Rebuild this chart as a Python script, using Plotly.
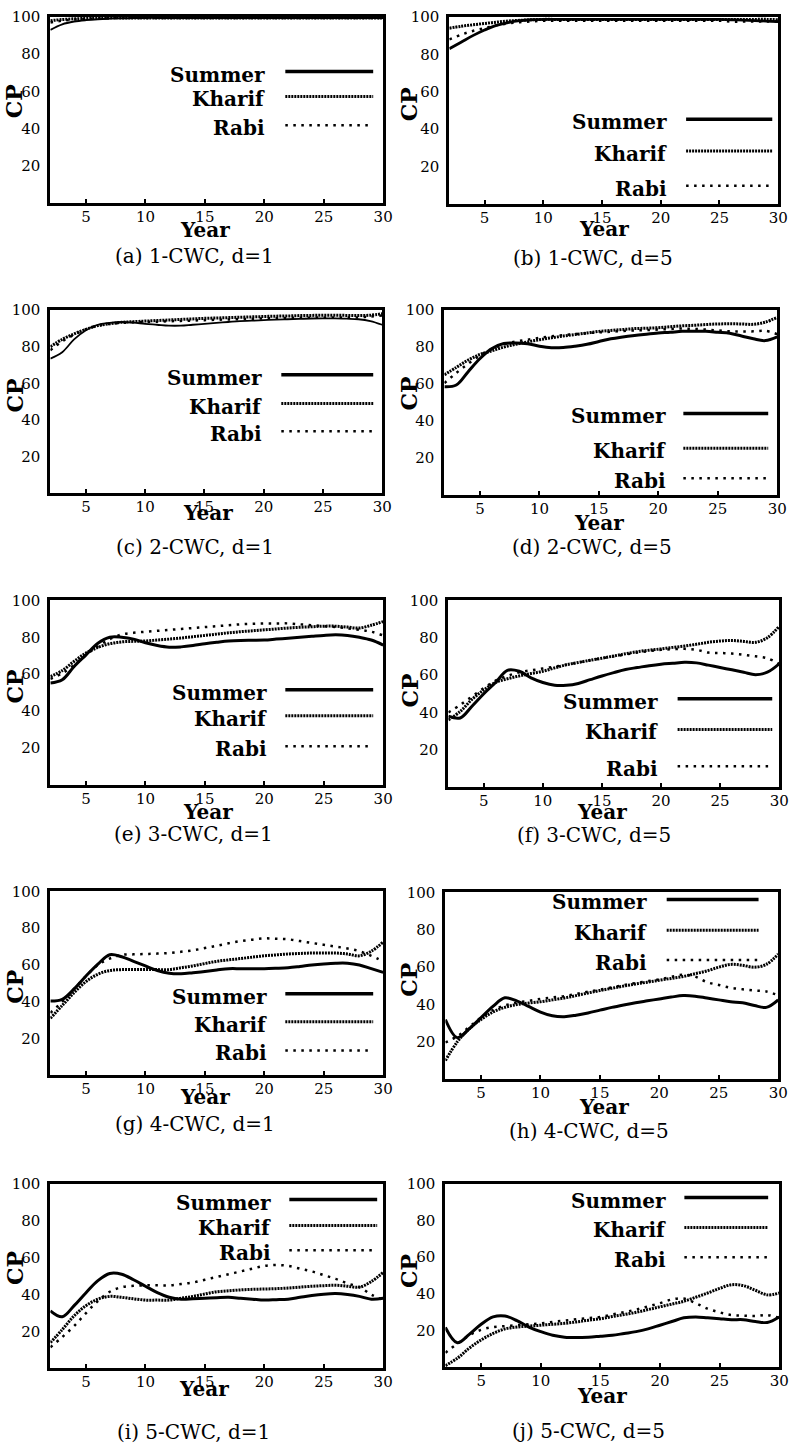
import plotly.graph_objects as go

years = list(range(2, 31))

# ---- data (years 2..30) ----
a_summer = [93, 96, 97.5, 98.3, 98.8, 99.1, 99.3, 99.4] + [99.5] * 21
a_kharif = [98, 98.6, 99, 99.2, 99.4] + [99.5] * 24
a_rabi = [97, 98, 98.6, 99, 99.2, 99.4] + [99.5] * 23

b_summer = [83, 86.5, 90, 93, 95.5, 97, 98, 98.5] + [98.7] * 16 + [98.5, 98.3, 98, 97.8, 97.5]
b_kharif = [94, 95, 95.8, 96.5, 97.2, 97.8, 98.2, 98.5] + [98.7] * 20 + [98.5]
b_rabi = [88, 90.5, 92.5, 94, 95.5, 96.5, 97.2, 97.6, 98] + [98] * 15 + [97.5] * 5

c_summer = [73.5, 77, 84, 89, 92, 93, 93.5, 93.2, 92.5, 92, 91.5, 91.5, 92, 92.5, 93, 93.5, 94, 94.2, 94.5,
            94.8, 95, 95.2, 95.4, 95.5, 95.5, 95.3, 95, 94, 92]
c_kharif = [80, 84, 87, 89.5, 91.5, 92.5, 93.3, 93.7, 94, 94.3, 94.6, 94.9, 95.2, 95.5, 95.7, 95.9, 96.1, 96.3,
            96.5, 96.7, 96.8, 97, 97.1, 97.2, 97.2, 97.1, 97, 97.2, 98]
c_rabi = [78, 83, 86.5, 89.5, 91.5, 92.5, 93, 93.3, 93.5, 93.7, 93.9, 94.1, 94.3, 94.5, 94.7, 94.9, 95.1, 95.3,
          95.5, 95.6, 95.7, 95.8, 95.9, 96, 96, 96, 96, 96.5, 97]

d_summer = [58.6, 59.5, 66.7, 73.8, 79.2, 81.9, 82.2, 81.8, 80.5, 79.7, 79.8, 80.5, 81.5, 83, 84.5, 85.5, 86.3,
            87, 87.6, 88, 88.5, 88.6, 88.5, 88, 87.5, 86, 84.5, 83.5, 85.5]
d_kharif = [65, 69, 73, 76, 78, 80, 81.5, 82.8, 84, 85, 86, 86.8, 87.6, 88.5, 89, 89.5, 90, 90.2, 90.5, 91,
            91.5, 91.8, 92.2, 92.5, 92.6, 92.5, 92.3, 93.5, 96]
d_rabi = [60.5, 66, 71, 75.5, 79, 81.5, 83, 84, 85, 85.8, 86.5, 87, 87.5, 88, 88.3, 88.7, 89, 89.2, 89.5, 89.8,
          90, 89.8, 89.5, 89, 88.5, 88.5, 88.5, 88.8, 87]

e_summer = [55.2, 57, 64.2, 70.5, 76.8, 80, 80, 79, 77, 75.5, 74.6, 74.8, 75.5, 76.5, 77.3, 78, 78.3, 78.4,
            78.5, 79, 79.5, 80, 80.5, 81, 81.3, 81, 80, 78.5, 75.8]
e_kharif = [58.8, 62, 67, 71.5, 74.5, 76.5, 77.5, 77.8, 78, 78.5, 79, 79.6, 80.3, 81, 81.7, 82.4, 83, 83.5, 84,
            84.5, 85, 85.4, 85.7, 86, 86, 85.5, 85, 86.5, 88.5]
e_rabi = [57.5, 60.5, 65, 70.5, 75, 79, 81.5, 82.4, 83, 83.5, 84, 84.5, 85, 85.5, 86, 86.5, 87, 87.3, 87.5,
          87.5, 87.5, 87, 86.5, 86, 85.5, 84.8, 84, 83, 81]

f_summer = [38, 37, 43.3, 50, 56, 62.5, 62, 58.5, 56, 54.5, 54.5, 55.5, 57.5, 59.5, 61.3, 63, 64, 65, 65.8,
            66.3, 66.8, 66.5, 65.3, 64, 62.8, 61.5, 60.2, 61.5, 66]
f_kharif = [36, 40.5, 47, 52, 56, 58, 59.5, 60.8, 62, 63.8, 65.5, 66.7, 67.9, 69, 70.2, 71.4, 72.5, 73.3, 74,
            74.8, 75.5, 76.5, 77.5, 78.2, 78.5, 78, 77.5, 80, 86]
f_rabi = [40, 44, 48.5, 53, 57, 59.5, 61.5, 62.5, 63.5, 64.5, 65.5, 66.7, 67.9, 69, 70, 71, 72, 72.8, 73.5,
          73.8, 74, 73.5, 72, 71.8, 71.5, 70.8, 70, 69, 66]

g_summer = [40.4, 41.3, 47, 54, 60.5, 65.6, 64.5, 62, 59.5, 57, 55.5, 55.2, 55.8, 56.5, 57.3, 58, 58, 58, 58,
            58.2, 58.5, 59.2, 60, 60.6, 61, 61, 60, 58, 56]
g_kharif = [31, 38, 45, 51, 55, 57, 57.5, 57.5, 57.5, 57.5, 57.5, 58.5, 59.5, 60.8, 62, 62.8, 63.5, 64.3, 65,
            65.5, 66, 66.3, 66.5, 66.5, 66.5, 66, 65, 67.5, 72.5]
g_rabi = [34, 40, 47, 54, 60, 63.5, 65.5, 65.8, 66, 66.2, 66.5, 67.2, 68, 69.2, 70.5, 71.8, 73, 73.8, 74.5,
          74.3, 74, 73, 72, 71, 70, 69, 67.5, 65, 62]

h_summer = [32, 22.3, 27, 33, 39, 43.6, 42, 39, 36, 34, 33.5, 34.3, 35.5, 37, 38.5, 39.8, 41, 42, 43, 44, 44.8,
            44.5, 43.5, 42.5, 41.5, 41, 39.5, 38.5, 42.5]
h_kharif = [10, 20, 27, 32, 36, 38.5, 40, 40.8, 41.5, 42.5, 43.5, 44.8, 46.2, 47.5, 48.7, 49.9, 51, 52, 53, 54,
            55, 56.5, 58, 60, 61.5, 61, 60, 61.5, 67]
h_rabi = [19.7, 23, 28, 33, 37, 39.5, 41, 42, 43, 43.8, 44.5, 45.7, 46.9, 48, 49.2, 50.4, 51.5, 52.5, 53.5,
          54.8, 56, 55, 52, 50.5, 49, 48.2, 47.5, 47, 45]

i_summer = [31.2, 28, 34, 41, 47.5, 51.4, 51, 48, 44.5, 41, 38.5, 37.5, 37.7, 38, 38.3, 38.5, 38, 37.5, 37,
            37.2, 37.5, 38.5, 39.5, 40.2, 40.5, 40, 39, 37.5, 38]
i_kharif = [14, 21, 28.5, 34, 37.5, 39, 38.5, 37.7, 37, 37, 37, 38, 39, 40.3, 41.5, 42, 42.5, 42.8, 43, 43.2,
            43.5, 44, 44.5, 44.8, 45, 44.5, 44, 47, 52]
i_rabi = [11.5, 17, 23, 30, 36.5, 41.5, 44, 44.7, 45, 45, 45, 45.7, 46.5, 48, 49.5, 51, 52.5, 54, 55.5, 56,
          55.5, 54, 52.5, 50.5, 48.5, 46, 44, 40, 37]

j_summer = [21.8, 13.5, 18, 23.5, 27.5, 28, 25.5, 22, 19.5, 17.5, 16.5, 16.3, 16.5, 17, 17.5, 18.5, 19.5, 21,
            23, 25, 27, 27.5, 27, 26.5, 26, 26, 25, 24.5, 27.5]
j_kharif = [1, 5, 10.5, 15, 18.5, 21, 22, 22.5, 23, 23.5, 24, 24.8, 25.7, 26.5, 27.7, 28.8, 30, 31.5, 33, 34.5,
            36, 38.2, 40.5, 43, 45, 44.5, 42, 39.5, 40.5]
j_rabi = [8, 13, 17.5, 20.5, 22, 22.5, 23, 23.5, 24, 24.8, 25.5, 26.2, 26.9, 27.5, 28.8, 30.1, 31.5, 33.2, 35,
          37, 37.5, 35, 32, 30, 28.5, 28.2, 28, 28.5, 27]

series_names = ["Summer", "Kharif", "Rabi"]
captions = ["(a) 1-CWC, d=1", "(b) 1-CWC, d=5", "(c) 2-CWC, d=1", "(d) 2-CWC, d=5", "(e) 3-CWC, d=1",
            "(f) 3-CWC, d=5", "(g) 4-CWC, d=1", "(h) 4-CWC, d=5", "(i) 5-CWC, d=1", "(j) 5-CWC, d=5"]
x_ticks = [5, 10, 15, 20, 25, 30]
y_ticks = [20, 40, 60, 80, 100]

panel_data = [
    (a_summer, a_kharif, a_rabi), (b_summer, b_kharif, b_rabi),
    (c_summer, c_kharif, c_rabi), (d_summer, d_kharif, d_rabi),
    (e_summer, e_kharif, e_rabi), (f_summer, f_kharif, f_rabi),
    (g_summer, g_kharif, g_rabi), (h_summer, h_kharif, h_rabi),
    (i_summer, i_kharif, i_rabi), (j_summer, j_kharif, j_rabi),
]

# ---- layout geometry (pixels) ----
W, H = 803, 1445
frames = [(51, 388, 8, 195), (455, 788, 8, 196),
          (51, 387, 303, 487), (450, 787, 303, 489),
          (51, 388, 595, 781), (454, 789, 595, 783),
          (51, 388, 888, 1073), (451, 788, 889, 1077),
          (51, 388, 1182, 1368), (451, 789, 1182, 1367)]
# legend: text right edge, line x0, line x1 (domain fraction); y of three entries (domain fraction)
legends = [(0.650, 0.706, 0.970, (0.706, 0.572, 0.417)),
           (0.667, 0.720, 0.982, (0.452, 0.282, 0.096)),
           (0.643, 0.696, 0.973, (0.647, 0.489, 0.337)),
           (0.671, 0.718, 0.973, (0.441, 0.253, 0.091)),
           (0.656, 0.706, 0.970, (0.516, 0.376, 0.210)),
           (0.639, 0.693, 0.979, (0.473, 0.309, 0.112)),
           (0.656, 0.706, 0.970, (0.443, 0.292, 0.135)),
           (0.611, 0.665, 0.941, (0.963, 0.798, 0.638)),
           (0.668, 0.718, 0.982, (0.914, 0.774, 0.640)),
           (0.666, 0.716, 0.967, (0.924, 0.762, 0.600))]
cp_pos = [(15, 93), (415, 96), (15, 389), (414, 387), (15, 682), (415, 686),
          (15, 984), (414, 977), (15, 1267), (414, 1270)]
year_pos = [(208, 222), (612, 221), (211, 507), (607, 517), (211, 808), (610, 808),
            (208, 1095), (612, 1105), (207, 1389), (610, 1396)]
cap_pos = [(197, 249), (600, 251), (197, 541), (599, 541), (196, 830), (601, 831),
           (197, 1122), (596, 1129), (196, 1432), (596, 1431)]
summer_w = [2, 2.8, 1.8, 3, 3, 3, 3, 3, 3, 3]

styles = [dict(dash="solid"), dict(dash="2px,1px", width=3), dict(dash="2.5px,5.5px", width=2.5)]

SERIF = "DejaVu Serif"
fig = go.Figure()
shapes = []
annotations = []


def px(x):
    return x / W


def py(y):
    return 1 - y / H


for i, data in enumerate(panel_data):
    suf = "" if i == 0 else str(i + 1)
    x0, x1, y0, y1 = frames[i]
    for k, vals in enumerate(data):
        if k == 0:
            line = dict(color="black", width=summer_w[i], shape="spline")
        else:
            line = dict(color="black", width=styles[k]["width"], dash=styles[k]["dash"], shape="spline")
        fig.add_trace(go.Scatter(x=years, y=vals, mode="lines", line=line, name=series_names[k],
                                 showlegend=False, xaxis="x" + suf, yaxis="y" + suf, hoverinfo="skip"))
    fig.layout["xaxis" + suf] = dict(
        domain=[px(x0), px(x1)], range=[2, 30], anchor="y" + suf,
        tickvals=x_ticks, ticktext=[str(v) for v in x_ticks],
        ticks="inside", ticklen=4, tickwidth=2, tickcolor="black",
        showline=True, linewidth=3, linecolor="black", mirror=True,
        showgrid=False, zeroline=False, ticklabelstandoff=-2,
        tickfont=dict(family=SERIF, size=15, color="black"))
    fig.layout["yaxis" + suf] = dict(
        domain=[py(y1), py(y0)], range=[0, 100], anchor="x" + suf,
        tickvals=y_ticks, ticktext=[str(v) for v in y_ticks], ticks="",
        showline=True, linewidth=3, linecolor="black", mirror=True,
        showgrid=False, zeroline=False, ticklabelstandoff=4,
        tickfont=dict(family=SERIF, size=15, color="black"))

    # legend (drawn as text + sample lines, text to the left of the line)
    tr, lx0, lx1, ys = legends[i]
    for k in range(3):
        yy = ys[k]
        ypaper = py(y1) + yy * (py(y0) - py(y1))
        xr = px(x0) + tr * (px(x1) - px(x0))
        xa = px(x0) + lx0 * (px(x1) - px(x0))
        xb = px(x0) + lx1 * (px(x1) - px(x0))
        if k == 0:
            ln = dict(color="black", width=3.5)
        else:
            ln = dict(color="black", width=styles[k]["width"], dash=styles[k]["dash"])
        shapes.append(dict(type="line", xref="paper", yref="paper", x0=xa, x1=xb, y0=ypaper, y1=ypaper, line=ln))
        annotations.append(dict(text="<b>" + series_names[k] + "</b>", xref="paper", yref="paper",
                                x=xr, y=ypaper - 3 / H, xanchor="right", yanchor="middle", showarrow=False,
                                font=dict(family=SERIF, size=20, color="black")))
    cx, cy = cp_pos[i]
    annotations.append(dict(text="<b>CP</b>", xref="paper", yref="paper", x=px(cx), y=py(cy),
                            xanchor="center", yanchor="middle", textangle=-90, showarrow=False,
                            borderpad=0,
                            font=dict(family=SERIF, size=22, color="black")))
    yx, yy_ = year_pos[i]
    annotations.append(dict(text="<b>Year</b>", xref="paper", yref="paper", x=px(yx), y=py(yy_),
                            xanchor="center", yanchor="middle", showarrow=False,
                            font=dict(family=SERIF, size=20, color="black")))
    qx, qy = cap_pos[i]
    annotations.append(dict(text=captions[i], xref="paper", yref="paper", x=px(qx), y=py(qy),
                            xanchor="center", yanchor="middle", showarrow=False,
                            font=dict(family=SERIF, size=20, color="black")))

fig.update_layout(width=W, height=H, margin=dict(l=0, r=0, t=0, b=0),
                  paper_bgcolor="white", plot_bgcolor="white",
                  shapes=shapes, annotations=annotations, showlegend=False)
fig.write_html("out.html")
